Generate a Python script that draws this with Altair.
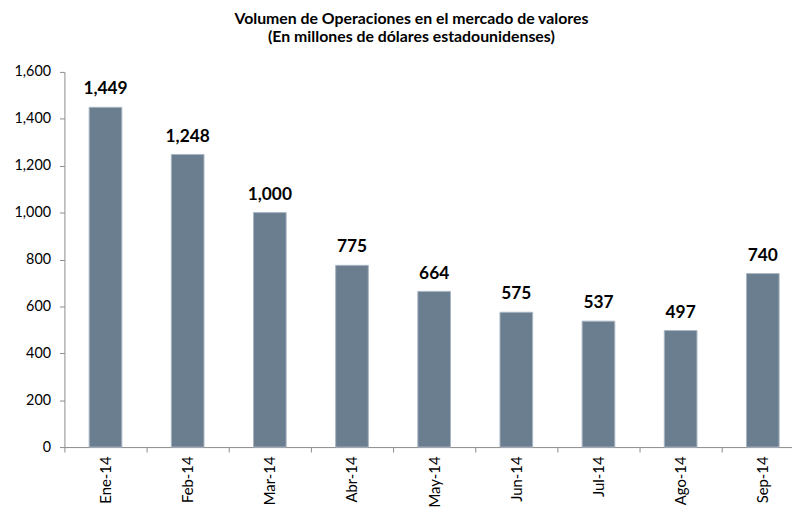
import altair as alt
import pandas as pd

meses = ["Ene-14", "Feb-14", "Mar-14", "Abr-14", "May-14", "Jun-14", "Jul-14", "Ago-14", "Sep-14"]
valores = [1449, 1248, 1000, 775, 664, 575, 537, 497, 740]
y_ticks = [0, 200, 400, 600, 800, 1000, 1200, 1400, 1600]
titulo = ["Volumen de Operaciones en  el mercado de valores",
          "(En millones de dólares estadounidenses)"]

df = pd.DataFrame({"mes": meses, "valor": valores})

FONT = "Lato"

x_enc = alt.X(
    "mes:N", sort=meses,
    scale=alt.Scale(range=[0, 747], paddingInner=0, paddingOuter=0),
    axis=alt.Axis(title=None, labelAngle=-90, tickBand="extent", labelFont=FONT,
                  labelFontSize=15, labelColor="#000000", labelPadding=4,
                  domainColor="#8c8c8c", tickColor="#8c8c8c", tickSize=5,
                  grid=False),
)
y_enc = alt.Y(
    "valor:Q",
    scale=alt.Scale(domain=[0, 1600], nice=False),
    axis=alt.Axis(title=None, values=y_ticks, format=",d", labelFont=FONT,
                  labelFontSize=14.5, labelColor="#000000", labelPadding=9,
                  domainColor="#8c8c8c", tickColor="#8c8c8c", tickSize=5,
                  grid=False),
)

bars = alt.Chart(df).mark_bar(width=33, color="#6a7e90", stroke="#a9b6c3",
                              strokeWidth=1).encode(x=x_enc, y=y_enc)

labels = alt.Chart(df).mark_text(font=FONT, fontSize=17.5, fontWeight="bold",
                                 baseline="bottom", dy=-9, color="#000000").encode(
    x=alt.X("mes:N", sort=meses), y="valor:Q",
    text=alt.Text("valor:Q", format=",d"),
)

chart = (bars + labels).properties(
    width=735, height=379,
    title=alt.TitleParams(titulo, font=FONT, fontSize=16, fontWeight="bold",
                          anchor="middle", offset=19, dx=-17, lineHeight=18,
                          color="#000000"),
    autosize=alt.AutoSizeParams(type="none"),
    padding={"left": 57, "top": 62, "right": 0, "bottom": 61},
).configure_view(stroke=None)

chart.save("out.html", embed_options={"renderer": "svg", "actions": False})
